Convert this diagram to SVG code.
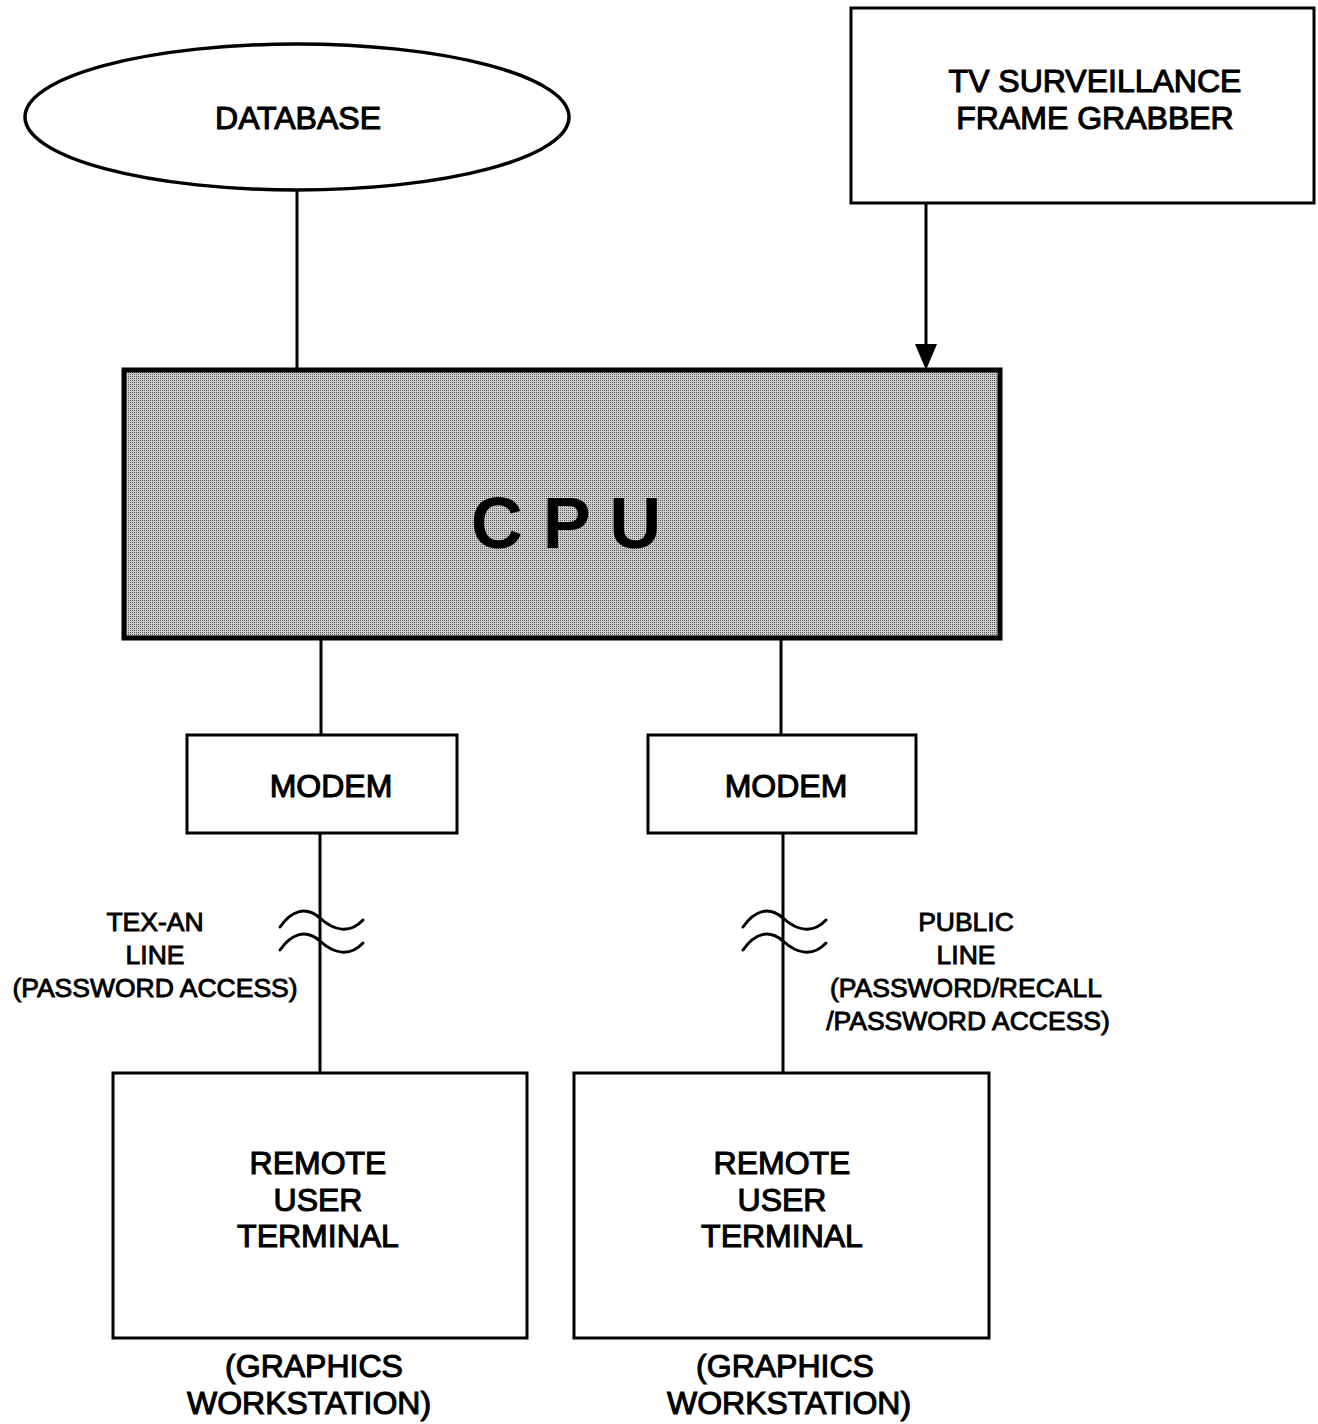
<svg xmlns="http://www.w3.org/2000/svg" width="1318" height="1424" viewBox="0 0 1318 1424">
<style>
.box{fill:#fff;stroke:#000;stroke-width:3}
.ln{fill:none;stroke:#000;stroke-width:3}
.wave{fill:none;stroke:#000;stroke-width:3;stroke-linecap:round}
.t{font-family:"Liberation Sans",Arial,sans-serif;font-size:32px;fill:#000;stroke:#000;stroke-width:1.1;text-anchor:middle}
.s{font-size:26.5px;stroke-width:0.9}
.cpu{font-family:"Liberation Sans",Arial,sans-serif;font-size:72px;font-weight:bold;fill:#000;text-anchor:middle}
</style>
<defs>
<pattern id="stip" width="2" height="2" patternUnits="userSpaceOnUse">
<rect width="2" height="2" fill="#cdcdcd"/>
<rect x="0" y="0" width="1" height="1" fill="#5a5a5a"/>
</pattern>
</defs>
<rect width="1318" height="1424" fill="#fff"/>

<g id="connectors">
<line class="ln" x1="297" y1="190" x2="297" y2="371"/>
<line class="ln" x1="926" y1="203" x2="926" y2="345"/>
<path d="M915,344 L937,344 L926,370 Z" fill="#000"/>
<line class="ln" x1="321" y1="638" x2="321" y2="735"/>
<line class="ln" x1="781" y1="638" x2="781" y2="735"/>
<line class="ln" x1="320" y1="833" x2="320" y2="1073"/>
<line class="ln" x1="783" y1="833" x2="783" y2="1073"/>
<path class="wave" d="M280,927 C292,910 306,906 320,918 C334,931 350,934 363,920"/>
<path class="wave" d="M280,950 C292,933 306,929 320,941 C334,954 350,957 363,943"/>
<path class="wave" d="M743,927 C755,910 769,906 783,918 C797,931 813,934 826,920"/>
<path class="wave" d="M743,950 C755,933 769,929 783,941 C797,954 813,957 826,943"/>
</g>

<g id="database">
<ellipse cx="297" cy="117" rx="272" ry="73" fill="#fff" stroke="#000" stroke-width="3.5"/>
<text class="t" x="298" y="129">DATABASE</text>
</g>

<g id="tv">
<rect class="box" x="851" y="8" width="463" height="195"/>
<text class="t" x="1095" y="92">TV SURVEILLANCE</text>
<text class="t" x="1095" y="129">FRAME GRABBER</text>
</g>

<g id="cpu">
<rect x="124" y="370" width="876" height="268" fill="url(#stip)" stroke="#000" stroke-width="5"/>
<text class="cpu" x="566" y="548">C P U</text>
</g>

<g id="modem1">
<rect class="box" x="187" y="735" width="270" height="98"/>
<text class="t" x="331" y="797">MODEM</text>
</g>

<g id="modem2">
<rect class="box" x="648" y="735" width="268" height="98"/>
<text class="t" x="786" y="797">MODEM</text>
</g>

<g id="label1">
<text class="t s" x="155" y="931">TEX-AN</text>
<text class="t s" x="155" y="964">LINE</text>
<text class="t s" x="155" y="997">(PASSWORD ACCESS)</text>
</g>

<g id="label2">
<text class="t s" x="966" y="931">PUBLIC</text>
<text class="t s" x="966" y="964">LINE</text>
<text class="t s" x="966" y="997">(PASSWORD/RECALL</text>
<text class="t s" x="968" y="1030">/PASSWORD ACCESS)</text>
</g>

<g id="terminal1">
<rect class="box" x="113" y="1073" width="414" height="265"/>
<text class="t" x="318" y="1174">REMOTE</text>
<text class="t" x="318" y="1211">USER</text>
<text class="t" x="318" y="1247">TERMINAL</text>
<text class="t" x="314" y="1377">(GRAPHICS</text>
<text class="t" x="309" y="1414">WORKSTATION)</text>
</g>

<g id="terminal2">
<rect class="box" x="574" y="1073" width="415" height="265"/>
<text class="t" x="782" y="1174">REMOTE</text>
<text class="t" x="782" y="1211">USER</text>
<text class="t" x="782" y="1247">TERMINAL</text>
<text class="t" x="785" y="1377">(GRAPHICS</text>
<text class="t" x="789" y="1414">WORKSTATION)</text>
</g>
</svg>
